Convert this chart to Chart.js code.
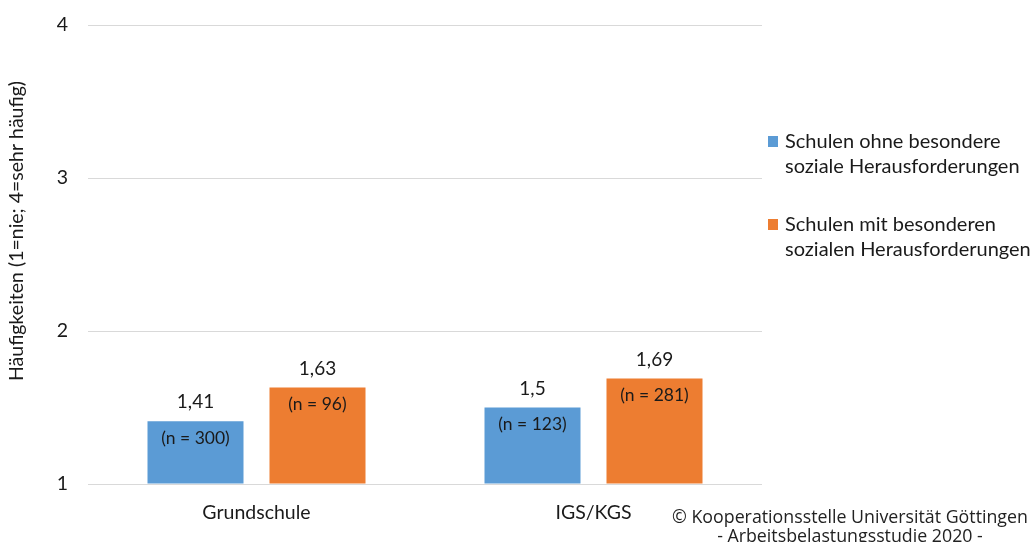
<!DOCTYPE html>
<html>
<head>
<meta charset="utf-8">
<script src="https://cdn.jsdelivr.net/npm/chart.js@4/dist/chart.umd.min.js"></script>
<style>
  html, body { margin: 0; padding: 0; background: #fff; overflow: hidden; }
  #wrap { position: relative; width: 1031px; height: 542px; }
  #copy {
    position: absolute; left: 630px; top: 507px; width: 440px;
    text-align: center; font-family: 'Open Sans', sans-serif; font-size: 17.8px;
    line-height: 19px; color: #222;
  }
</style>
</head>
<body>
<div id="wrap">
  <canvas id="chart" width="1031" height="542"></canvas>
  <div id="copy">© Kooperationsstelle Universität Göttingen<br>- Arbeitsbelastungsstudie 2020 -</div>
</div>
<script>
'use strict';

const categories = ['Grundschule', 'IGS/KGS'];
const seriesNames = [
  ['Schulen ohne besondere', 'soziale Herausforderungen'],
  ['Schulen mit besonderen', 'sozialen Herausforderungen'],
];
const ohneValues = [1.41, 1.5];
const mitValues = [1.63, 1.69];
const ohneCounts = [300, 123];
const mitCounts = [96, 281];
const yTicks = [1, 2, 3, 4];
const yTitle = 'Häufigkeiten (1=nie; 4=sehr häufig)';

const blue = '#5B9BD5';
const orange = '#ED7D31';
const textColor = '#1a1a1a';
const font = 'Lato, sans-serif';

function fmt(v) {
  return String(v).replace('.', ',');
}

const labelPlugin = {
  id: 'labels',
  afterDatasetsDraw(chart) {
    const ctx = chart.ctx;
    const counts = [ohneCounts, mitCounts];
    ctx.save();
    ctx.fillStyle = textColor;
    ctx.textAlign = 'center';
    ctx.textBaseline = 'middle';
    chart.data.datasets.forEach((ds, i) => {
      chart.getDatasetMeta(i).data.forEach((bar, j) => {
        ctx.font = '19px ' + font;
        ctx.fillText(fmt(ds.data[j]), bar.x, bar.y - 19);
        ctx.font = '17.5px ' + font;
        ctx.fillText('(n = ' + counts[i][j] + ')', bar.x, bar.y + 17);
      });
    });

    // y axis title
    ctx.save();
    ctx.translate(17, 231);
    ctx.rotate(-Math.PI / 2);
    ctx.font = '19.5px ' + font;
    ctx.fillText(yTitle, 0, 0);
    ctx.restore();

    // legend on the right
    ctx.textAlign = 'left';
    ctx.font = '20px ' + font;
    const tops = [142, 225];
    chart.data.datasets.forEach((ds, i) => {
      ctx.fillStyle = ds.backgroundColor;
      ctx.fillRect(768, tops[i] - 6, 10, 11);
      ctx.fillStyle = textColor;
      seriesNames[i].forEach((line, k) => {
        ctx.fillText(line, 785, tops[i] + k * 25);
      });
    });
    ctx.restore();
  },
};

new Chart(document.getElementById('chart'), {
  type: 'bar',
  data: {
    labels: categories,
    datasets: [
      {
        label: seriesNames[0].join(' '),
        data: ohneValues,
        backgroundColor: blue,
        base: 1,
        categoryPercentage: 0.724,
        barPercentage: 0.787,
      },
      {
        label: seriesNames[1].join(' '),
        data: mitValues,
        backgroundColor: orange,
        base: 1,
        categoryPercentage: 0.724,
        barPercentage: 0.787,
      },
    ],
  },
  options: {
    responsive: false,
    animation: false,
    layout: {
      padding: {top: 25, right: 269, bottom: 0, left: 0},
    },
    plugins: {
      legend: {display: false},
      tooltip: {enabled: false},
    },
    scales: {
      x: {
        grid: {display: false},
        border: {display: false},
        ticks: {
          color: textColor,
          padding: 9,
          font: {family: font, size: 19.5},
        },
        afterFit(scale) { scale.height = 58; },
      },
      y: {
        min: 1,
        max: 4,
        afterBuildTicks(scale) {
          scale.ticks = yTicks.map(v => ({value: v}));
        },
        grid: {color: '#d9d9d9', drawTicks: false},
        border: {display: false},
        ticks: {
          color: textColor,
          padding: 20,
          font: {family: font, size: 19.5},
        },
        afterFit(scale) {
          scale.width = 88;
          scale.paddingTop = 0;
          scale.paddingBottom = 0;
        },
      },
    },
  },
  plugins: [labelPlugin],
});
</script>
</body>
</html>
